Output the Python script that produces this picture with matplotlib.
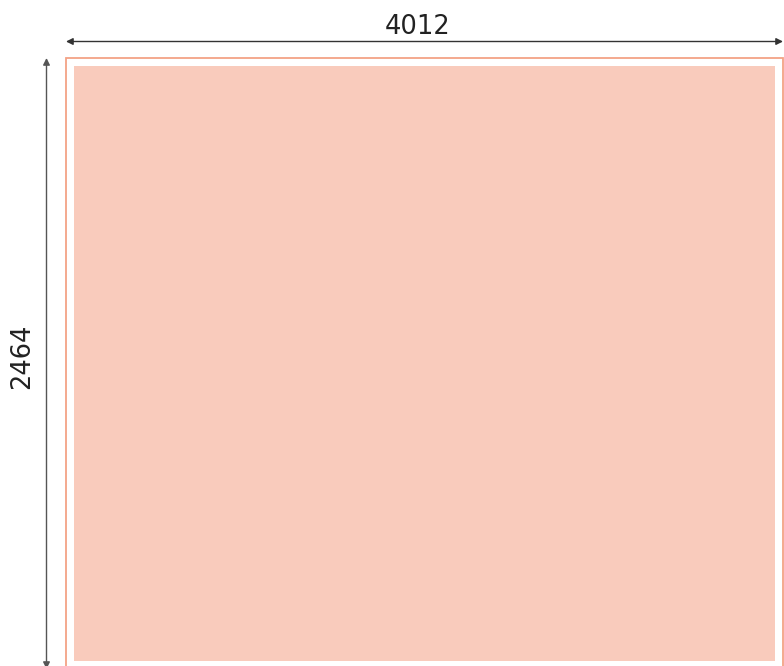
import matplotlib
matplotlib.use('Agg')
import matplotlib.pyplot as plt
from matplotlib.patches import Rectangle
from matplotlib import transforms

# dimensions of the panel (mm)
width = 4012
height = 2464
width_label = '4012'
height_label = '2464'

fig = plt.figure(figsize=(7.84, 6.66), dpi=100)
# outer frame spans about x 66..783 px, y 58..669 px (bottom is cut off)
ax = fig.add_axes([66 / 784, (666 - 669) / 666, 717 / 784, 611 / 666])
ax.set_xlim(0, width)
ax.set_ylim(0, height)
ax.axis('off')

# outer border
ax.add_patch(Rectangle((0, 0), width, height, fill=False,
                       edgecolor='#f3a286', lw=1.3, clip_on=False))
# inner filled panel
mx = 45
my = 32
ax.add_patch(Rectangle((mx, my), width - 2 * mx, height - 2 * my,
                       facecolor='#f9cbbc', edgecolor='none'))

# horizontal dimension line above the frame
tr_top = transforms.offset_copy(ax.transData, fig, y=16.5, units='dots')
ax.annotate('', xy=(0, height), xycoords=tr_top,
            xytext=(width, height), textcoords=tr_top,
            arrowprops=dict(arrowstyle='<|-|>', color='#333333', lw=1.0,
                            mutation_scale=10, shrinkA=0, shrinkB=0),
            annotation_clip=False)
ax.text(width / 2, height, width_label,
        transform=transforms.offset_copy(ax.transData, fig, x=-6.5, y=23.7, units='dots'),
        ha='center', va='baseline', fontsize=18.5, color='#222222',
        family='DejaVu Sans')

# vertical dimension line left of the frame
tr_left = transforms.offset_copy(ax.transData, fig, x=-19.5, units='dots')
ax.annotate('', xy=(0, height), xycoords=tr_left,
            xytext=(0, 0), textcoords=tr_left,
            arrowprops=dict(arrowstyle='<|-|>', color='#555555', lw=1.0,
                            mutation_scale=10, shrinkA=0, shrinkB=0),
            annotation_clip=False)
ax.text(0, height / 2, height_label,
        transform=transforms.offset_copy(ax.transData, fig, x=-44, y=7.5, units='dots'),
        ha='center', va='center', rotation=90,
        fontsize=18.5, color='#222222', family='DejaVu Sans')

fig.savefig('out.png', dpi=100)
